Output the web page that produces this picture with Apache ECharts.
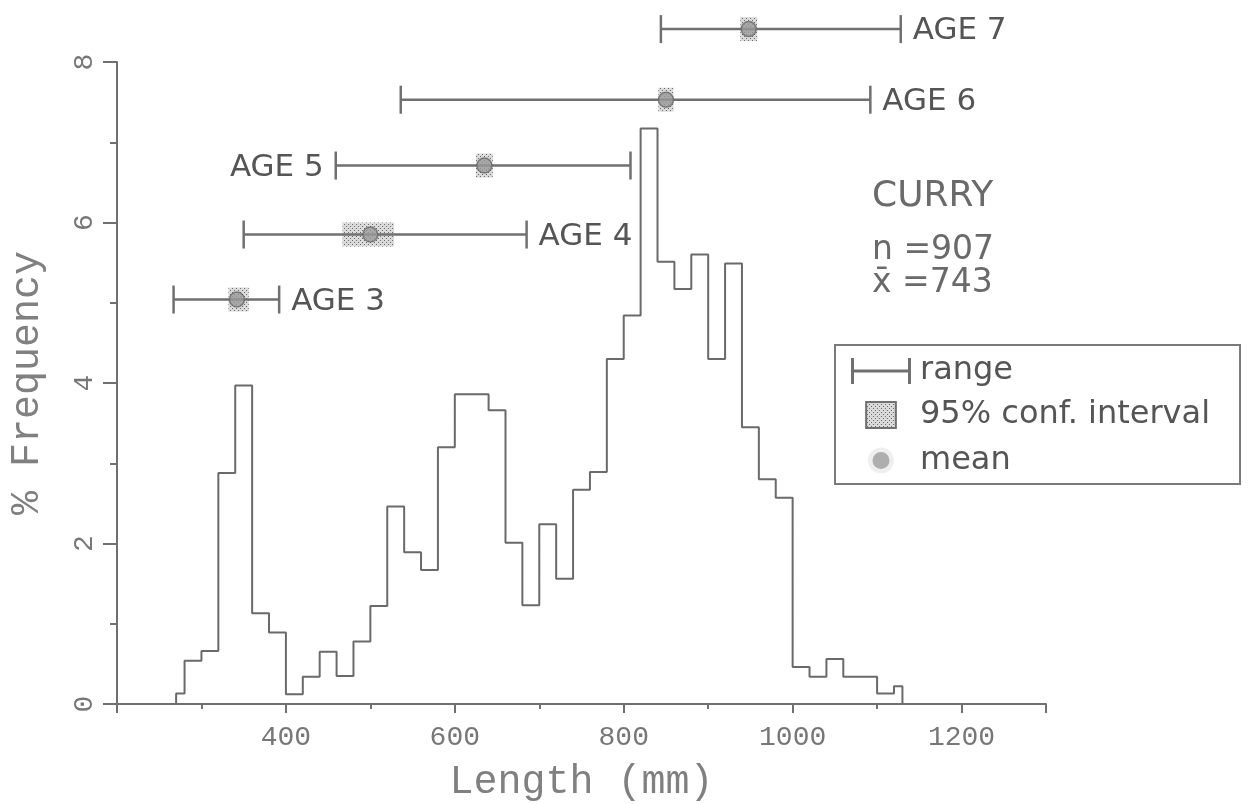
<!DOCTYPE html>
<html>
<head>
<meta charset="utf-8">
<title>Curry - length frequency</title>
<script src="https://cdn.jsdelivr.net/npm/echarts@6/dist/echarts.min.js"></script>
<style>
  html, body { margin: 0; padding: 0; background: #fff; }
  #main { width: 1248px; height: 804px; }
</style>
</head>
<body>
<div id="main"></div>
<script>
// histogram bin edges (mm) and % frequency of each bin
const binEdges = [270, 280, 300, 320, 340, 360, 380, 400, 420, 440, 460, 480, 500, 520, 540,
  560, 580, 600, 620, 640, 660, 680, 700, 720, 740, 760, 780, 800, 820, 840, 860, 880,
  900, 920, 940, 960, 980, 1000, 1020, 1040, 1060, 1080, 1100, 1120, 1130];
const freq = [0.13, 0.54, 0.66, 2.88, 3.97, 1.13, 0.89, 0.12, 0.34, 0.65,
  0.35, 0.78, 1.22, 2.46, 1.89, 1.67, 3.20, 3.86, 3.86, 3.66,
  2.01, 1.23, 2.24, 1.56, 2.67, 2.89, 4.30, 4.84, 7.17, 5.51,
  5.17, 5.60, 4.30, 5.49, 3.45, 2.80, 2.57, 0.46, 0.34, 0.56,
  0.34, 0.34, 0.13, 0.22];

// length by age: range, 95% CI and mean (mm), drawn at a height on the % axis
const ages = ['AGE 3', 'AGE 4', 'AGE 5', 'AGE 6', 'AGE 7'];
const barLevel = [5.04, 5.85, 6.71, 7.53, 8.41];
const rangeMin = [267, 350, 459, 536, 844];
const rangeMax = [392, 685, 808, 1092, 1128];
const ciLow = [332, 467, 625, 841, 938];
const ciHigh = [356, 528, 645, 859, 958];
const meanLen = [342, 500, 635, 850, 948];

// tick labels shown on the length axis
const xLabels = [400, 600, 800, 1000, 1200];

const chart = echarts.init(document.getElementById('main'));

const axisColor = '#707070';
const monoFont = 'Liberation Mono';
const textFont = 'DejaVu Sans';

// stipple fill for the confidence boxes
const dotCanvas = document.createElement('canvas');
dotCanvas.width = 4;
dotCanvas.height = 4;
const dctx = dotCanvas.getContext('2d');
dctx.fillStyle = '#dadada';
dctx.fillRect(0, 0, 4, 4);
dctx.fillStyle = '#6e6e6e';
dctx.fillRect(0, 0, 1, 1);
dctx.fillRect(2, 2, 1, 1);
const dotPattern = { image: dotCanvas, repeat: 'repeat' };

// step outline: up at the first edge, down at the last
const histData = [[binEdges[0], 0]];
freq.forEach((f, i) => histData.push([binEdges[i], f]));
histData.push([binEdges[binEdges.length - 1], 0]);

const rangeData = ages.map((a, i) => [rangeMin[i], rangeMax[i], barLevel[i]]);
const ciData = ages.map((a, i) => [ciLow[i], ciHigh[i], barLevel[i]]);
const meanData = ages.map((a, i) => [meanLen[i], barLevel[i]]);

const rangeIcon = 'path://M0,0h3v26h-3zM0,11.5h60v3h-60zM57,0h3v26h-3z';

const option = {
  animation: false,
  backgroundColor: '#fff',
  grid: { left: 117, right: 202, top: 62, bottom: 100, outerBoundsMode: 'none' },
  xAxis: {
    type: 'value',
    min: 200,
    max: 1300,
    interval: 200,
    name: 'Length (mm)',
    nameLocation: 'middle',
    nameGap: 58,
    nameTextStyle: { fontFamily: monoFont, fontSize: 40, color: '#808080' },
    axisLine: { show: true, onZero: false, lineStyle: { color: axisColor, width: 2 } },
    axisTick: { show: true, length: 9, lineStyle: { color: axisColor, width: 2 } },
    minorTick: { show: true, splitNumber: 2, length: 5, lineStyle: { color: axisColor, width: 2 } },
    axisLabel: {
      margin: 20,
      fontFamily: monoFont,
      fontSize: 28,
      color: '#777',
      formatter: v => (xLabels.includes(v) ? String(v) : '')
    },
    splitLine: { show: false },
    minorSplitLine: { show: false }
  },
  yAxis: {
    type: 'value',
    min: 0,
    max: 8,
    interval: 2,
    name: '% Frequency',
    nameLocation: 'middle',
    nameRotate: 90,
    nameGap: 70,
    nameTextStyle: { fontFamily: monoFont, fontSize: 40, color: '#808080' },
    axisLine: { show: true, lineStyle: { color: axisColor, width: 2 } },
    axisTick: { show: true, length: 14, lineStyle: { color: axisColor, width: 2 } },
    minorTick: { show: true, splitNumber: 2, length: 7, lineStyle: { color: axisColor, width: 2 } },
    axisLabel: { rotate: 90, margin: 18, fontFamily: monoFont, fontSize: 28, color: '#777' },
    splitLine: { show: false },
    minorSplitLine: { show: false }
  },
  legend: {
    orient: 'vertical',
    left: 835,
    top: 345,
    padding: [10, 30, 6, 16],
    itemWidth: 68,
    itemHeight: 26,
    itemGap: 12,
    borderColor: '#7a7a7a',
    borderWidth: 2,
    selectedMode: false,
    textStyle: { fontFamily: textFont, fontSize: 32, color: '#555' },
    data: [
      { name: 'range', icon: rangeIcon, itemStyle: { color: axisColor, borderWidth: 0 } },
      {
        name: '95% conf. interval',
        icon: 'path://M0,0h32v28h-32z',
        itemStyle: { color: dotPattern, borderColor: axisColor, borderWidth: 2 }
      },
      { name: 'mean', icon: 'circle', itemStyle: { color: '#9a9a9a', borderColor: '#fff', borderWidth: 9 } }
    ]
  },
  graphic: [
    { type: 'text', x: 872, y: 197, style: { text: 'CURRY', fontFamily: textFont, fontSize: 36, fill: '#6a6a6a', verticalAlign: 'middle' } },
    { type: 'text', x: 872, y: 250, style: { text: 'n =907', fontFamily: textFont, fontSize: 33, fill: '#6a6a6a', verticalAlign: 'middle' } },
    { type: 'text', x: 872, y: 283, style: { text: 'x\u0304 =743', fontFamily: textFont, fontSize: 33, fill: '#6a6a6a', verticalAlign: 'middle' } }
  ],
  series: [
    {
      name: 'Curry',
      type: 'line',
      step: 'end',
      symbol: 'none',
      data: histData,
      lineStyle: { color: '#6a6a6a', width: 2 },
      z: 2
    },
    {
      name: '95% conf. interval',
      type: 'custom',
      clip: false,
      data: ciData,
      encode: { x: [0, 1], y: 2 },
      itemStyle: { color: dotPattern },
      renderItem(params, api) {
        const a = api.coord([api.value(0), api.value(2)]);
        const b = api.coord([api.value(1), api.value(2)]);
        return {
          type: 'rect',
          shape: { x: a[0], y: a[1] - 12, width: b[0] - a[0], height: 24 },
          style: { fill: dotPattern }
        };
      },
      z: 3
    },
    {
      name: 'range',
      type: 'custom',
      clip: false,
      data: rangeData,
      encode: { x: [0, 1], y: 2 },
      itemStyle: { color: axisColor },
      renderItem(params, api) {
        const lo = api.coord([api.value(0), api.value(2)]);
        const hi = api.coord([api.value(1), api.value(2)]);
        const cap = 14;
        const line = { stroke: axisColor, lineWidth: 2.5 };
        const label = ages[params.dataIndex];
        // AGE 5 sits on the left end of its bar
        const onLeft = label === 'AGE 5';
        return {
          type: 'group',
          children: [
            { type: 'line', shape: { x1: lo[0], y1: lo[1], x2: hi[0], y2: hi[1] }, style: line },
            { type: 'line', shape: { x1: lo[0], y1: lo[1] - cap, x2: lo[0], y2: lo[1] + cap }, style: line },
            { type: 'line', shape: { x1: hi[0], y1: hi[1] - cap, x2: hi[0], y2: hi[1] + cap }, style: line },
            {
              type: 'text',
              x: onLeft ? lo[0] - 12 : hi[0] + 12,
              y: lo[1] + 2,
              style: {
                text: label,
                fontFamily: textFont,
                fontSize: 31,
                fill: '#555',
                align: onLeft ? 'right' : 'left',
                verticalAlign: 'middle'
              }
            }
          ]
        };
      },
      z: 4
    },
    {
      name: 'mean',
      type: 'scatter',
      clip: false,
      data: meanData,
      symbolSize: 15,
      itemStyle: { color: '#9a9a9a', borderColor: '#6a6a6a', borderWidth: 1.5 },
      z: 5
    }
  ]
};

chart.setOption(option);
</script>
</body>
</html>
